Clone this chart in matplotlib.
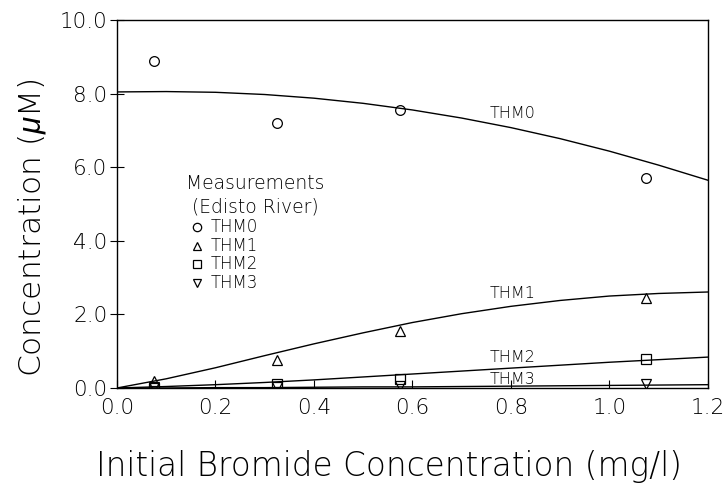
import numpy as np
import matplotlib
matplotlib.use("Agg")
import matplotlib.pyplot as plt

# measured points (Edisto River)
bromide = [0.075, 0.325, 0.575, 1.075]
thm0 = [8.9, 7.2, 7.55, 5.7]
thm1 = [0.2, 0.75, 1.55, 2.45]
thm2 = [0.0, 0.1, 0.25, 0.8]
thm3 = [0.02, 0.02, 0.05, 0.1]

# model curves
curve_x = [0.0, 0.1, 0.2, 0.3, 0.4, 0.5, 0.6, 0.7, 0.8, 0.9, 1.0, 1.1, 1.2]
curve0 = [8.05, 8.06, 8.04, 7.98, 7.88, 7.74, 7.56, 7.34, 7.08, 6.78, 6.44, 6.06, 5.65]
curve1 = [0.0, 0.25, 0.55, 0.88, 1.2, 1.5, 1.78, 2.02, 2.22, 2.38, 2.5, 2.57, 2.61]
curve2 = [0.0, 0.04, 0.09, 0.15, 0.22, 0.3, 0.38, 0.46, 0.54, 0.62, 0.7, 0.77, 0.84]
curve3 = [0.0, 0.0, 0.01, 0.01, 0.02, 0.03, 0.03, 0.04, 0.05, 0.06, 0.07, 0.08, 0.09]

plt.rcParams['font.family'] = ['DejaVu Sans']
plt.rcParams['mathtext.fontset'] = 'custom'
plt.rcParams['mathtext.it'] = 'Liberation Sans:italic'
plt.rcParams['mathtext.rm'] = 'DejaVu Sans:light'

fig = plt.figure(figsize=(7.24, 4.93), dpi=100)
ax = fig.add_axes([0.1616, 0.213, 0.816, 0.746])

for cy in (curve0, curve1, curve2, curve3):
    ax.plot(curve_x, cy, color='black', lw=1.0)

mk = dict(color='black', mfc='none', mew=0.9, ms=7, ls='none')
ax.plot(bromide, thm0, marker='o', **mk)
ax.plot(bromide, thm1, marker='^', **mk)
ax.plot(bromide, thm2, marker='s', **mk)
ax.plot(bromide, thm3, marker='v', **mk)

lab = dict(fontsize=11.5, fontweight='light', va='center')
ax.text(0.756, 7.47, 'THM0', **lab)
ax.text(0.756, 2.58, 'THM1', **lab)
ax.text(0.756, 0.82, 'THM2', **lab)
ax.text(0.756, 0.22, 'THM3', **lab)

# hand-made legend block
ax.text(0.28, 5.57, 'Measurements', ha='center', va='center', fontsize=13.5, fontweight='light')
ax.text(0.28, 4.92, '(Edisto River)', ha='center', va='center', fontsize=13.5, fontweight='light')
leg_y = [4.375, 3.86, 3.37, 2.85]
leg_m = ['o', '^', 's', 'v']
leg_t = ['THM0', 'THM1', 'THM2', 'THM3']
for yy, m, t in zip(leg_y, leg_m, leg_t):
    ax.plot([0.162], [yy], marker=m, color='black', mfc='none', mew=0.9, ms=6, ls='none')
    ax.text(0.19, yy, t, va='center', fontsize=12, fontweight='light')

ax.set_xlim(0, 1.2)
ax.set_ylim(0, 10)
ax.set_xticks(np.arange(0, 1.21, 0.2))
ax.set_yticks(np.arange(0, 10.1, 2))
ax.xaxis.set_major_formatter(matplotlib.ticker.FormatStrFormatter('%.1f'))
ax.yaxis.set_major_formatter(matplotlib.ticker.FormatStrFormatter('%.1f'))
ax.tick_params(axis='x', direction='in', length=6, labelsize=15.5, pad=7)
ax.tick_params(axis='y', direction='inout', length=10, labelsize=15.5, pad=2)
for lbl in ax.get_xticklabels() + ax.get_yticklabels():
    lbl.set_fontweight('light')
for s in ax.spines.values():
    s.set_linewidth(1.0)

ax.set_xlabel('Initial Bromide Concentration (mg/l)', fontsize=23.5, fontweight='light')
ax.set_ylabel(r'Concentration ($\mu$M)', fontsize=22.5, fontweight='light')
ax.xaxis.set_label_coords(0.46, -0.168)
ax.yaxis.set_label_coords(-0.116, 0.435)

fig.savefig('out.png', dpi=100)
